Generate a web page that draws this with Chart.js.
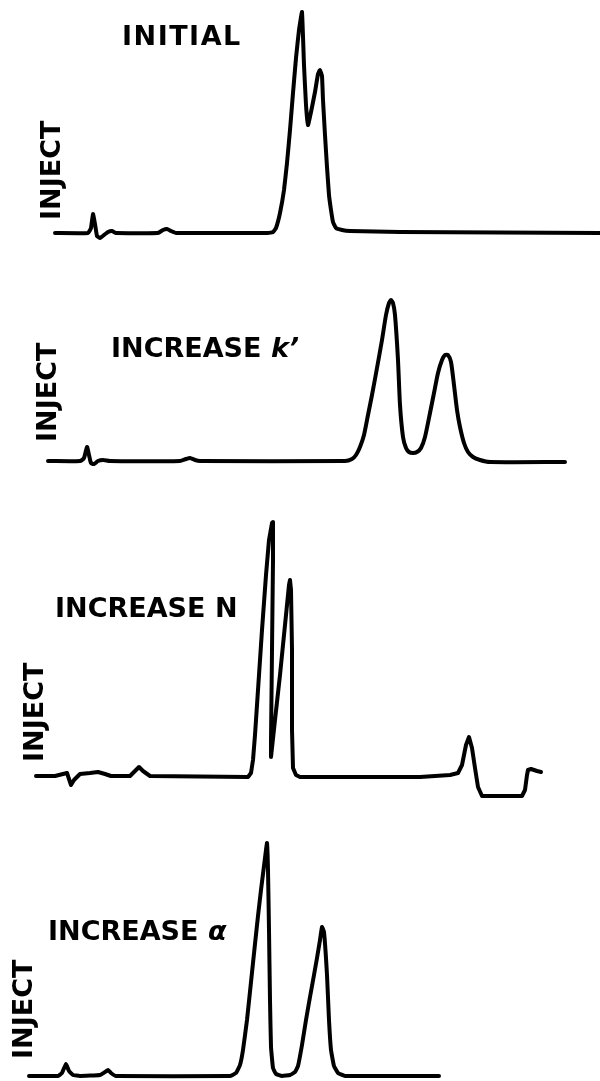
<!DOCTYPE html>
<html>
<head>
<meta charset="utf-8">
<script src="https://cdn.jsdelivr.net/npm/chart.js@4"></script>
<style>
  body { margin: 0; background: #fff; }
  #wrap { position: relative; width: 600px; height: 1081px; overflow: hidden; background: #fff; }
  canvas { position: absolute; left: 0; }
  .lbl { position: absolute; font: bold 27px "DejaVu Sans", sans-serif; line-height: 27px; white-space: nowrap; color: #000; }
  .vert { transform: rotate(-90deg); transform-origin: 0 0; }
</style>
</head>
<body>
<div id="wrap">
  <canvas id="c1" width="600" height="250" style="top:0px"></canvas>
  <canvas id="c2" width="600" height="240" style="top:250px"></canvas>
  <canvas id="c3" width="600" height="320" style="top:490px"></canvas>
  <canvas id="c4" width="600" height="271" style="top:810px"></canvas>

  <div class="lbl" style="left:122px;top:22px;letter-spacing:1.5px">INITIAL</div>
  <div class="lbl" style="left:111px;top:334px">INCREASE <i>k’</i></div>
  <div class="lbl" style="left:55px;top:594px">INCREASE N</div>
  <div class="lbl" style="left:48px;top:917px">INCREASE <i>α</i></div>

  <div class="lbl vert" style="left:37px;top:220px">INJECT</div>
  <div class="lbl vert" style="left:33px;top:442px">INJECT</div>
  <div class="lbl vert" style="left:20px;top:762px">INJECT</div>
  <div class="lbl vert" style="left:9px;top:1059px">INJECT</div>
</div>
<script>
// retention time (arbitrary units) and detector signal for each run

var initialTime = [55, 88, 91, 93, 95, 97, 100, 104, 108, 112, 116, 158, 163, 167, 171, 176, 268, 273, 276, 280,
    284, 287, 290, 293, 296, 299, 302, 304, 306, 308, 311, 315, 318, 320, 322, 323, 325, 327, 329, 331,
    333, 336, 342, 350, 400, 600];
var initialSignal = [0, 0, 5, 19, 9, -3, -5, -2, 1, 2, 0, 0, 3, 4, 2, 0, 0, 1, 5, 20,
    43, 70, 103, 140, 175, 203, 221, 168, 128, 108, 121, 141, 159, 163, 157, 133, 98, 66, 38, 23,
    11, 5, 3, 2, 1, 0];

var kTime = [48, 80, 84, 87, 89, 91, 94, 98, 103, 110, 180, 186, 190, 195, 200, 345, 352, 356, 360, 364,
    368, 372, 377, 382, 386, 389, 391, 393, 395, 398, 400, 403, 406, 409, 413, 417, 421, 425, 430, 434,
    438, 442, 445, 448, 451, 454, 457, 460, 464, 468, 473, 480, 490, 565];
var kSignal = [0, 0, 3, 14, 6, -2, -3, 0, 1, 0, 0, 2, 3, 1, 0, 0, 2, 6, 14, 26,
    46, 66, 93, 121, 146, 158, 161, 158, 146, 101, 56, 24, 13, 9, 8, 9, 13, 24, 48, 68,
    88, 101, 106, 106, 99, 76, 51, 34, 18, 9, 4, 1, -1, -1];

var nTime = [36, 55, 63, 67, 71, 74, 80, 90, 98, 105, 111, 130, 135, 139, 143, 150, 248, 251, 253, 255,
    258, 262, 266, 269, 272, 273, 273, 272, 271, 271, 275, 280, 285, 289, 290, 291, 292, 292, 293, 296,
    300, 420, 450, 458, 462, 466, 469, 472, 475, 478, 482, 500, 522, 525, 527, 528, 531, 537, 541];
var nSignal = [1, 1, 3, 4, -8, -3, 3, 4, 5, 3, 1, 1, 6, 10, 6, 1, 0, 4, 17, 42,
    87, 147, 202, 237, 254, 255, 217, 127, 37, 20, 57, 102, 152, 192, 197, 187, 127, 47, 9, 2,
    0, 0, 2, 4, 12, 32, 40, 29, 9, -10, -19, -19, -19, -13, 2, 7, 8, 6, 5];

var alphaTime = [29, 58, 62, 66, 69, 73, 80, 100, 105, 108, 111, 116, 230, 236, 240, 243, 247, 251, 255, 258,
    261, 264, 266, 267, 268, 269, 270, 271, 273, 276, 282, 290, 295, 298, 302, 306, 310, 314, 317, 320,
    322, 324, 327, 329, 331, 334, 338, 345, 439];
var alphaSignal = [0, 0, 3, 12, 5, 1, 0, 1, 4, 6, 3, 0, 0, 3, 11, 26, 56, 94, 132, 160,
    186, 210, 226, 233, 206, 146, 76, 29, 8, 2, 0, 1, 4, 10, 31, 56, 79, 101, 118, 136,
    149, 144, 101, 56, 26, 10, 3, 0, 0];

function trace(id, times, signals, yMin, yMax, tension) {
    var ctx = document.getElementById(id).getContext('2d');
    return new Chart(ctx, {
        type: 'line',
        data: {
            datasets: [{
                data: times.map(function (t, i) { return { x: t, y: signals[i] }; }),
                borderColor: '#000',
                borderWidth: 4,
                borderJoinStyle: 'round',
                borderCapStyle: 'round',
                pointRadius: 0,
                tension: tension,
                fill: false,
                clip: false
            }]
        },
        options: {
            responsive: false,
            animation: false,
            events: [],
            layout: { padding: 0 },
            plugins: { legend: { display: false }, tooltip: { enabled: false } },
            scales: {
                x: { type: 'linear', display: false, min: 0, max: 600 },
                y: { display: false, min: yMin, max: yMax }
            }
        }
    });
}

trace('c1', initialTime, initialSignal, -17, 233, 0.1);
trace('c2', kTime, kSignal, -29, 211, 0.2);
trace('c3', nTime, nSignal, -33, 287, 0);
trace('c4', alphaTime, alphaSignal, -5, 266, 0.1);
</script>
</body>
</html>
